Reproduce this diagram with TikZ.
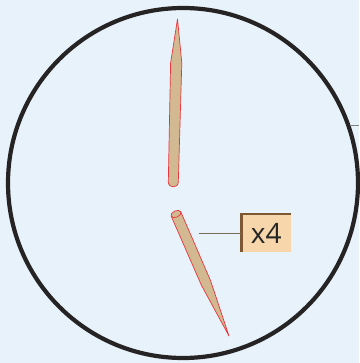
\documentclass[tikz,border=0pt]{standalone}
\usepackage{fontspec}
\setsansfont{Open Sans}
\usepackage{tikz}
\usetikzlibrary{positioning}
\definecolor{dialbg}{HTML}{E8F2FA}
\definecolor{dialrim}{HTML}{262324}
\definecolor{handfill}{HTML}{D2B992}
\definecolor{handedge}{HTML}{E8343C}
\definecolor{tagfill}{HTML}{F6D6AA}
\definecolor{tagedge}{HTML}{7E5733}
\definecolor{leadline}{HTML}{7A6A5A}
\tikzset{
  dialring/.style={draw=dialrim, line width=4.2pt},
  handshape/.style={fill=handfill, draw=handedge, line width=0.7pt, line join=round},
  tagbox/.style={
    rectangle,
    fill=tagfill,
    inner sep=0pt,
    minimum width=49pt,
    minimum height=38pt,
    text=black!85,
    font=\sffamily\fontsize{28}{28}\selectfont
  },
  tagrim/.style={draw=tagedge, line width=2.6pt},
  leader/.style={draw=leadline, line width=1pt}
}

\begin{document}
\begin{tikzpicture}[x=1pt, y=-1pt]
\fill[dialbg] (0,0) rectangle (359,363);
\useasboundingbox (0,0) rectangle (359,363);
\draw[dialring] (183,183) circle (175);
% upper hand
\draw[handshape] (177.5,19) -- (181.8,63) -- (178.3,182)
  .. controls (178.3,188.5) and (168.3,188.5) .. (168.3,182)
  -- (170.6,63) -- cycle;
% lower hand
\draw[handshape] (171.2,216.2) -- (201.4,285.2) -- (229,336)
  -- (210.6,280.8) -- (180.8,211.8) -- cycle;
\draw[handshape, shift={(176,214)}, rotate=23.5] (0,0) ellipse [x radius=5.3, y radius=3.2];
% label
\node[tagbox, anchor=north west] (tag) at (241.5,214) {x4};
\draw[tagrim] (tag.south west) -- (tag.north west) -- (tag.north east);
\coordinate (leadstart) at (199,233);
\draw[leader] (leadstart) -- (leadstart -| tag.west);
% rim tick
\coordinate (tickin) at (350,125);
\coordinate (tickout) at (359,125);
\draw[draw=gray, line width=0.8pt] (tickin) -- (tickout);
\end{tikzpicture}
\end{document}
